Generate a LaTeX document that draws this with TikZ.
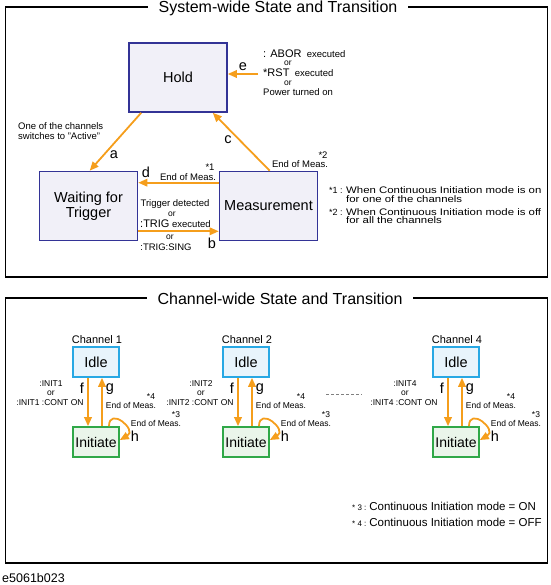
\documentclass[tikz,border=0pt]{standalone}
\usepackage{fontspec}
\setmainfont{Liberation Sans}
\newfontfamily\widefont{Liberation Sans}[FakeStretch=1.2]
\usetikzlibrary{arrows.meta}
\definecolor{sysdraw}{RGB}{51,51,150}
\definecolor{sysfill}{RGB}{241,240,248}
\definecolor{arrcol}{RGB}{245,158,28}
\definecolor{idledraw}{RGB}{40,168,228}
\definecolor{idlefill}{RGB}{232,244,252}
\definecolor{initdraw}{RGB}{48,168,72}
\definecolor{initfill}{RGB}{234,245,234}
\newcommand\pxf[1]{\fontsize{#1}{#1}\selectfont}
\tikzset{
  frame/.style={draw=black, line width=1.4pt},
  ftitle/.style={fill=white, inner xsep=11pt, inner ysep=1pt, font=\pxf{16}},
  sysbox/.style={draw=sysdraw, fill=sysfill, line width=1.6pt, minimum width=98pt, minimum height=69pt, inner sep=0pt, font=\fontsize{14.5}{13.5}\selectfont, align=center},
  idlebox/.style={draw=idledraw, fill=idlefill, line width=1.6pt, minimum width=46pt, minimum height=30pt, inner sep=0pt, font=\pxf{14.5}},
  initbox/.style={draw=initdraw, fill=initfill, line width=1.6pt, minimum width=46pt, minimum height=30pt, inner sep=0pt, font=\pxf{14}},
  arr/.style={draw=arrcol, line width=1.8pt, -{Triangle[length=9pt,width=7.5pt]}},
  lbl/.style={font=\pxf{14.5}, inner sep=0pt},
  small/.style={font=\pxf{9.5}, inner sep=0pt},
  orsmall/.style={font=\pxf{8.5}, inner sep=0pt},
  tiny/.style={font=\pxf{8.5}, inner sep=0pt},
  fn/.style={font=\widefont\pxf{9.5}, inner sep=0pt, anchor=west},
  fnmark/.style={font=\pxf{9}, inner sep=0pt, anchor=west},
}
\begin{document}
\begin{tikzpicture}[x=1pt,y=-1pt]
\useasboundingbox (0,0) rectangle (550,585);
% frames
\draw[frame] (5.5,7) rectangle (547.5,277);
\node[ftitle] (t1) at (278,8) {System-wide State and Transition};
\draw[frame] (5.5,298) rectangle (547.5,563);
\node[ftitle] (t2) at (280,299) {Channel-wide State and Transition};

% system-wide states
\node[sysbox] (hold) at (178,77.5) {Hold};
\node[sysbox] (wait) at (88.5,206) {Waiting for\\Trigger};
\node[sysbox] (meas) at (268.5,206) {Measurement};

\draw[arr] ([xshift=13pt]hold.south west) -- ([xshift=51pt]wait.north west);
\draw[arr] ([xshift=51pt]meas.north west) -- ([xshift=-15pt]hold.south east);
\coordinate (estart) at (258,74);
\draw[arr] (estart) -- (estart -| hold.east);
\draw[arr] ([yshift=-12pt]meas.north west) -- ([yshift=-12pt]wait.north east);
\draw[arr] ([yshift=10pt]wait.south east) -- ([yshift=10pt]meas.south west);

\node[lbl] (la) at (114,155) {a};
\node[lbl] (lb) at (212,243) {b};
\node[lbl] (lc) at (228,140) {c};
\node[lbl] (ld) at (146,172) {d};
\node[lbl] (le) at (243,67) {e};

\node[small, anchor=west] (t1a) at (18,126) {One of the channels};
\node[small, anchor=west] (t1b) at (18,136) {switches to "Active"};

\node[anchor=west, inner sep=0pt] (e1) at (263,54) {\pxf{11}: ABOR\pxf{9.5}\ \ executed};
\node[orsmall] (e2) at (288,63.5) {or};
\node[anchor=west, inner sep=0pt] (e3) at (263,73) {\pxf{11}*RST\pxf{9.5}\ \ executed};
\node[orsmall] (e4) at (288,83) {or};
\node[small, anchor=west] (e5) at (263,92) {Power turned on};

\node[small] (d1) at (188,177) {End of Meas.};
\node[small] (d2) at (210,167) {*1};
\node[small] (c1) at (300,164) {End of Meas.};
\node[small] (c2) at (323,155) {*2};

\node[small] (b1) at (175,204) {Trigger detected};
\node[orsmall] (b2) at (172,214) {or};
\node[anchor=west, inner sep=0pt] (b3) at (140,224) {\pxf{11}:TRIG\pxf{9.5} executed};
\node[orsmall] (b4) at (170,237) {or};
\node[small] (b5) at (166,247) {:TRIG:SING};

\node[fnmark] (n1) at (329,190) {*1 :};
\node[fn] (n1a) at (346,190) {When Continuous Initiation mode is on};
\node[fn] (n1b) at (346,199) {for one of the channels};
\node[fnmark] (n2) at (329,212) {*2 :};
\node[fn] (n2a) at (346,212) {When Continuous Initiation mode is off};
\node[fn] (n2b) at (346,220) {for all the channels};

% channel-wide
\foreach \n/\o/\q in {1/0/0, 2/150/150, 4/360/354} {
  \node[font=\pxf{11}, inner sep=0pt] (ch\n) at (97+\o,340) {Channel \n};
  \node[idlebox] (idle\n) at (96+\o,362) {Idle};
  \node[initbox] (init\n) at (96+\o,442) {Initiate};
  \draw[arr] ([xshift=-8pt]idle\n.south) -- ([xshift=-8pt]init\n.north);
  \draw[arr] ([xshift=6pt]init\n.north) -- ([xshift=6pt]idle\n.south);
  \draw[arr] ([xshift=13pt]init\n.north) .. controls +(0,-20) and +(18,-10) .. ([yshift=2pt]init\n.east);
  \node[lbl] (f\n) at (82+\o,388) {f};
  \node[lbl] (g\n) at (110+\o,389) {g};
  \node[lbl] (h\n) at (135+\o,436) {h};
  \node[tiny] (i\n a) at (51+\q,384) {:INIT\n};
  \node[tiny] (i\n b) at (51+\q,393) {or};
  \node[tiny] (i\n c) at (50+\q,403) {:INIT\n\ :CONT ON};
  \node[tiny] (g\n a) at (131+\o,405) {End of Meas.};
  \node[tiny] (g\n b) at (151+\o,397) {*4};
  \node[tiny] (h\n a) at (156+\o,423) {End of Meas.};
  \node[tiny] (h\n b) at (176+\o,415) {*3};
}
\draw[gray, line width=0.8pt, dash pattern=on 2.5pt off 2.5pt] (326,394) -- (362,394);

\node[anchor=west, inner sep=0pt] (m3) at (352,506) {\pxf{8}* 3 : \pxf{11.5}Continuous Initiation mode = ON};
\node[anchor=west, inner sep=0pt] (m4) at (352,522) {\pxf{8}* 4 : \pxf{11.5}Continuous Initiation mode = OFF};

\node[anchor=west, inner sep=0pt, font=\pxf{12.5}] (code) at (2,578) {e5061b023};
\end{tikzpicture}
\end{document}
